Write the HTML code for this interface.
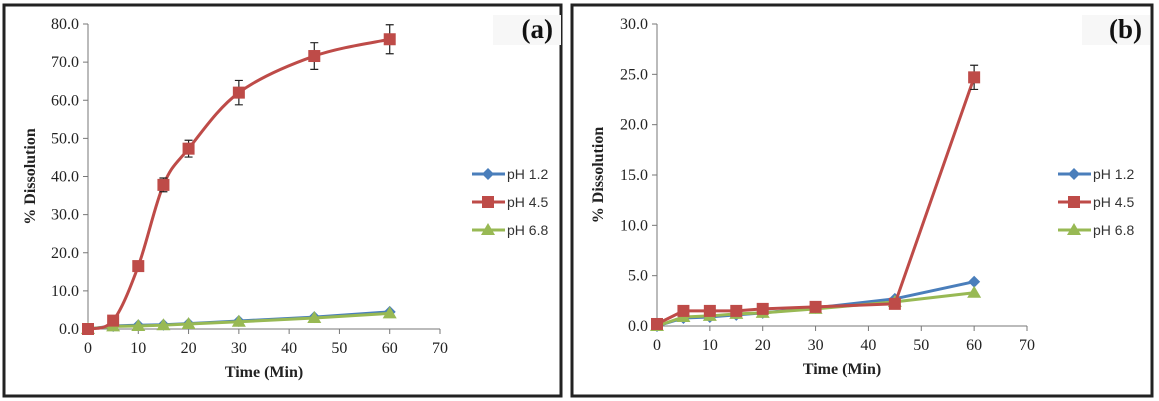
<!DOCTYPE html>
<html><head><meta charset="utf-8"><style>
body{margin:0;background:#fff;width:1159px;height:401px;overflow:hidden}
svg{display:block}
.tick{font-family:"Liberation Serif",serif;font-size:16px;fill:#222}
.ttl{font-family:"Liberation Serif",serif;font-size:16px;font-weight:bold;fill:#222}
.leg{font-family:"Liberation Sans",sans-serif;font-size:14px;fill:#333}
.tag{font-family:"Liberation Serif",serif;font-size:27px;font-weight:bold;fill:#111}
</style></head><body>
<svg id="s" width="1159" height="401"></svg>
<script>
const times=[0,5,10,15,20,30,45,60];
const xTicks=[0,10,20,30,40,50,60,70];
const a_ph12=[0,0.8,1.0,1.1,1.4,2.1,3.1,4.5];
const a_ph45=[0,2.2,16.5,37.8,47.3,62.0,71.6,76.0];
const a_ph45err=[0,0,0,1.8,2.2,3.2,3.5,3.8];
const a_ph68=[0,0.7,0.8,1.0,1.3,1.9,2.9,4.1];
const a_yTicks=[0,10,20,30,40,50,60,70,80];
const b_ph12=[0,0.8,0.9,1.1,1.3,1.8,2.7,4.4];
const b_ph45=[0.2,1.5,1.5,1.5,1.7,1.9,2.2,24.7];
const b_ph45err=[0,0,0,0,0,0,0,1.2];
const b_ph68=[0,0.9,1.0,1.2,1.3,1.7,2.4,3.3];
const b_yTicks=[0,5,10,15,20,25,30];
const seriesNames=["pH 1.2","pH 4.5","pH 6.8"];
const colors=["#4a7ebb","#be4b48","#98b954"];

const NS="http://www.w3.org/2000/svg";
const svg=document.getElementById('s');
function mk(tag,attrs,parent,txt){const e=document.createElementNS(NS,tag);for(const k in attrs)e.setAttribute(k,attrs[k]);if(txt!==undefined)e.textContent=txt;(parent||svg).appendChild(e);return e;}

function marker(g,type,x,y,c){
  let m;
  if(type===0)m=mk('polygon',{points:`${x},${y-6} ${x+6},${y} ${x},${y+6} ${x-6},${y}`,fill:c},g);
  else if(type===1)m=mk('rect',{x:x-6,y:y-6,width:12,height:12,fill:c},g);
  else m=mk('polygon',{points:`${x},${y-7} ${x+7},${y+5} ${x-7},${y+5}`,fill:c},g);
  return m;
}
function smoothPath(pts){
  let d=`M${pts[0][0]},${pts[0][1]}`;
  for(let i=0;i<pts.length-1;i++){
    const p0=pts[i-1]||pts[i],p1=pts[i],p2=pts[i+1],p3=pts[i+2]||p2;
    const t=0.5/3;
    d+=` C${p1[0]+(p2[0]-p0[0])*t},${p1[1]+(p2[1]-p0[1])*t} ${p2[0]-(p3[0]-p1[0])*t},${p2[1]-(p3[1]-p1[1])*t} ${p2[0]},${p2[1]}`;
  }
  return d;
}
function panel(o){
  const g=mk('g',{});
  
  
  const fr=mk('rect',{x:o.fx,y:5,width:o.fw,height:391,fill:'#fff',stroke:'#222','stroke-width':3},g);
  
  const tb=mk('rect',{x:o.tagX,y:15,width:o.tagW,height:30,fill:'#f7f7f7'},g);
  
  const tg=mk('text',{x:o.tagX+o.tagW-8,y:38,'text-anchor':'end',class:'tag'},g,o.tag);
  
  const X=v=>o.x0+(v-0)/70*(o.x1-o.x0);
  const Y=v=>o.y0-(v/o.ymax)*(o.y0-o.y1);
  const ax=mk('path',{d:`M${o.x0},${o.y1} V${o.y0} H${o.x1}`,stroke:'#777',fill:'none','stroke-width':1},g);
  
  o.yTicks.forEach(v=>{
    mk('line',{x1:o.x0-5,x2:o.x0,y1:Y(v),y2:Y(v),stroke:'#777'},g);
    const t=mk('text',{x:o.x0-9,y:Y(v)+5,'text-anchor':'end',class:'tick'},g,v.toFixed(1));
    
  });
  xTicks.forEach(v=>{
    mk('line',{x1:X(v),x2:X(v),y1:o.y0,y2:o.y0+5,stroke:'#777'},g);
    const t=mk('text',{x:X(v),y:o.y0+24,'text-anchor':'middle',class:'tick'},g,String(v));
    
  });
  const xt=mk('text',{x:(X(0)+X(70))/2,y:o.y0+48,'text-anchor':'middle',class:'ttl'},g,'Time (Min)');
  
  const cy=(o.y0+o.y1)/2;
  const yt=mk('text',{x:o.ytx,y:cy,'text-anchor':'middle',class:'ttl',transform:`rotate(-90 ${o.ytx} ${cy})`},g,'% Dissolution');
  
  const order=[0,2,1];
  order.forEach(si=>{
    const vals=o.series[si];
    const pts=times.map((t,i)=>[X(t),Y(vals[i])]);
    const sg=mk('g',{},g);
    
    
    const d=o.smooth&&si===1?smoothPath(pts):'M'+pts.map(p=>p.join(',')).join(' L');
    mk('path',{d:d,stroke:colors[si],fill:'none','stroke-width':3,'stroke-linejoin':'round'},sg);
    if(si===1){
      o.err.forEach((e,i)=>{if(e>0){
        const x=X(times[i]),ya=Y(vals[i]+e),yb=Y(vals[i]-e);
        const eb=mk('path',{d:`M${x},${ya} V${yb} M${x-4},${ya} H${x+4} M${x-4},${yb} H${x+4}`,stroke:'#222','stroke-width':1.2,fill:'none'},sg);
        
      }});
    }
    pts.forEach(p=>{const m=marker(sg,si,p[0],p[1],colors[si]);});
  });
  [0,1,2].forEach(si=>{
    const ly=174+si*28;
    const lg=mk('g',{},g);
    
    mk('line',{x1:o.lx,x2:o.lx+33,y1:ly,y2:ly,stroke:colors[si],'stroke-width':3},lg);
    marker(lg,si,o.lx+16,ly,colors[si]);
    mk('text',{x:o.lx+35,y:ly+5,class:'leg'},lg,seriesNames[si]);
  });
}
panel({name:'panel-a',fx:4,fw:557,tag:'(a)',tagX:493,tagW:68,x0:88,x1:440,y0:329,y1:24,ymax:80,yTicks:a_yTicks,
  series:[a_ph12,a_ph45,a_ph68],err:a_ph45err,smooth:true,lx:472,ytx:35});
panel({name:'panel-b',fx:572,fw:580,tag:'(b)',tagX:1082,tagW:68,x0:657,x1:1027,y0:326,y1:24,ymax:30,yTicks:b_yTicks,
  series:[b_ph12,b_ph45,b_ph68],err:b_ph45err,smooth:false,lx:1058,ytx:603});
</script>
</body></html>
